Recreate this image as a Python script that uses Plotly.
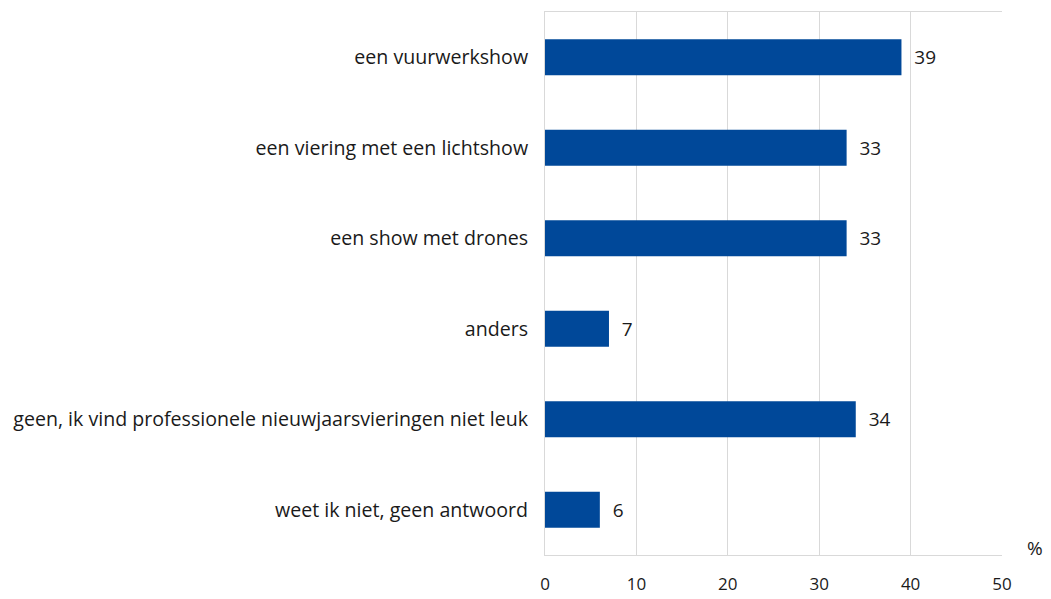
import plotly.graph_objects as go

categories = [
    "een vuurwerkshow",
    "een viering met een lichtshow",
    "een show met drones",
    "anders",
    "geen, ik vind professionele nieuwjaarsvieringen niet leuk",
    "weet ik niet, geen antwoord",
]
values = [39, 33, 33, 7, 34, 6]
x_ticks = [0, 10, 20, 30, 40, 50]

FONT = "Open Sans, Lato, sans-serif"
BAR = "#004899"
GRID = "#d9d9d9"

fig = go.Figure(go.Bar(
    x=values,
    y=categories,
    orientation="h",
    width=0.4,
    marker=dict(color=BAR, line=dict(width=0)),
    texttemplate="  %{x}",
    textposition="outside",
    textfont=dict(family=FONT, size=19, color="#1a1a1a"),
    cliponaxis=False,
))

fig.update_layout(
    width=1051,
    height=599,
    margin=dict(l=537, r=57, t=4, b=52),
    paper_bgcolor="white",
    plot_bgcolor="white",
    font=dict(family=FONT, size=19, color="#1a1a1a"),
    showlegend=False,
    bargap=0.6,
)
fig.update_xaxes(
    range=[0, 50],
    tickvals=x_ticks,
    showgrid=True,
    gridcolor=GRID,
    gridwidth=1,
    zeroline=False,
    showline=True,
    linecolor=GRID,
    mirror=True,
    ticks="outside",
    ticklen=14,
    tickcolor="rgba(0,0,0,0)",
    tickfont=dict(family=FONT, size=17),
    automargin=False,
    fixedrange=True,
)
fig.update_yaxes(
    autorange="reversed",
    showgrid=False,
    showline=True,
    linecolor=GRID,
    ticks="outside",
    ticklen=12,
    tickcolor="rgba(0,0,0,0)",
    tickfont=dict(family=FONT, size=19.6),
    automargin=False,
    fixedrange=True,
)
fig.add_annotation(
    text="%", xref="paper", yref="paper", x=1.072, y=0.013,
    showarrow=False, font=dict(family=FONT, size=19),
    xanchor="center", yanchor="middle",
)

fig.write_html("out.html")
